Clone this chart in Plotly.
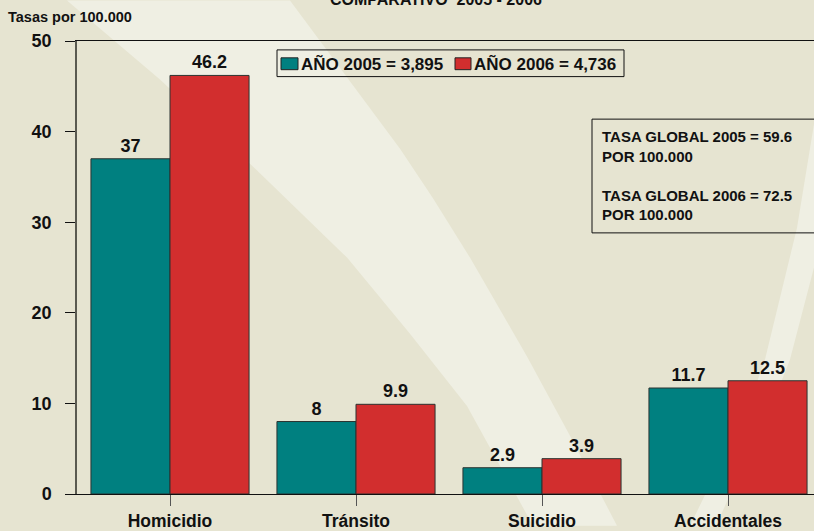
import plotly.graph_objects as go

categorias = ['Homicidio', 'Tránsito', 'Suicidio', 'Accidentales']
tasas_2005 = [37, 8, 2.9, 11.7]
tasas_2006 = [46.2, 9.9, 3.9, 12.5]
nombre_2005 = 'AÑO 2005 = 3,895'
nombre_2006 = 'AÑO 2006 = 4,736'
tasa_global_2005 = 59.6
tasa_global_2006 = 72.5
y_ticks = [0, 10, 20, 30, 40, 50]

W, H = 814, 531
L, R, T, B = 77, 0, 41, 32
FONT = 'Liberation Sans, Arial, sans-serif'
BG = '#E6E4D1'
LIGHT = '#EFEFE3'
TEAL = '#008080'
RED = '#D22E2E'


def px(x, y):
    # pixel -> paper coords
    return (x - L) / (W - L - R), (H - B - y) / (H - T - B)


def path(points):
    pts = [px(x, y) for x, y in points]
    return 'M ' + ' L '.join('%.4f,%.4f' % p for p in pts) + ' Z'


def rect(x0, y0, x1, y1, **kw):
    a, b = px(x0, y1)
    c, d = px(x1, y0)
    return dict(type='rect', xref='paper', yref='paper', x0=a, y0=b, x1=c, y1=d, **kw)


def label(x, y, text, size, xanchor='left', yanchor='middle', align='left'):
    a, b = px(x, y)
    return dict(xref='paper', yref='paper', x=a, y=b, xanchor=xanchor, yanchor=yanchor,
                align=align, showarrow=False, text=text,
                font=dict(family=FONT, size=size, color='#111', weight='bold'))


# background swooshes (pixel coords)
band1 = [(67, 0), (160, 80), (250, 165), (347, 260), (410, 337), (467, 410), (533, 531),
         (617, 531), (570, 440), (527, 360), (470, 260), (433, 200), (400, 150), (290, 0)]
band2 = [(814, 125), (797, 230), (765, 363), (738, 440), (705, 500), (690, 531),
         (716, 531), (730, 500), (760, 440), (790, 363), (814, 270)]

fig = go.Figure()
for vals, name, color in [(tasas_2005, nombre_2005, TEAL), (tasas_2006, nombre_2006, RED)]:
    fig.add_trace(go.Bar(
        x=categorias, y=vals, name=name, showlegend=False,
        marker=dict(color=color, line=dict(color='#2B3330', width=1)),
        text=[f'{v:g}' for v in vals], textposition='outside', cliponaxis=False,
        textfont=dict(family=FONT, size=18, color='#111', weight='bold'),
    ))

shapes = [
    dict(type='path', xref='paper', yref='paper', path=path(band1),
         fillcolor=LIGHT, line=dict(width=0), layer='below'),
    dict(type='path', xref='paper', yref='paper', path=path(band2),
         fillcolor=LIGHT, line=dict(width=0), layer='below'),
    # info box
    rect(592, 120, 830, 235, line=dict(color='#111', width=1)),
    # hand-made legend
    rect(277, 50, 624, 77, line=dict(color='#111', width=1)),
    rect(281, 58, 298, 70, fillcolor=TEAL, line=dict(color='#222', width=1)),
    rect(455, 58, 471, 70, fillcolor=RED, line=dict(color='#222', width=1)),
]

annotations = [
    label(600, 177, f'TASA GLOBAL 2005 = {tasa_global_2005}<br>POR 100.000<br><br>'
                    f'TASA GLOBAL 2006 = {tasa_global_2006}<br>POR 100.000', 15),
    label(436, 10, 'COMPARATIVO  2005 - 2006', 16, xanchor='center', yanchor='bottom'),
    label(6, 17, 'Tasas por 100.000', 14.5),
    label(299, 64, nombre_2005, 17),
    label(472, 64, nombre_2006, 17),
]

fig.update_layout(
    width=W, height=H,
    margin=dict(l=L, r=R, t=T, b=B, pad=0),
    paper_bgcolor=BG, plot_bgcolor='rgba(0,0,0,0)',
    barmode='group', bargap=0.15, bargroupgap=0,
    font=dict(family=FONT, color='#111'),
    shapes=shapes, annotations=annotations, showlegend=False,
    xaxis=dict(range=[-0.5, -0.5 + (W - L - R) / 186], showline=True, mirror=True,
               linecolor='#111', linewidth=1.2, ticks='outside', ticklen=11,
               tickcolor='#555', tickwidth=1,
               tickfont=dict(family=FONT, size=17.5, color='#111', weight='bold'),
               showgrid=False, zeroline=False, fixedrange=True),
    yaxis=dict(range=[0, 50], tickvals=y_ticks, showline=True, linecolor='#5A5A50',
               linewidth=1.5, ticks='outside', ticklen=10, tickcolor='#111', tickwidth=1,
               ticklabelstandoff=10,
               tickfont=dict(family=FONT, size=18, color='#111', weight='bold'),
               showgrid=False, zeroline=False, fixedrange=True),
)

fig.write_html('out.html', config={'displayModeBar': False},
               post_script="document.body.style.margin='0';document.body.style.overflow='hidden';")
